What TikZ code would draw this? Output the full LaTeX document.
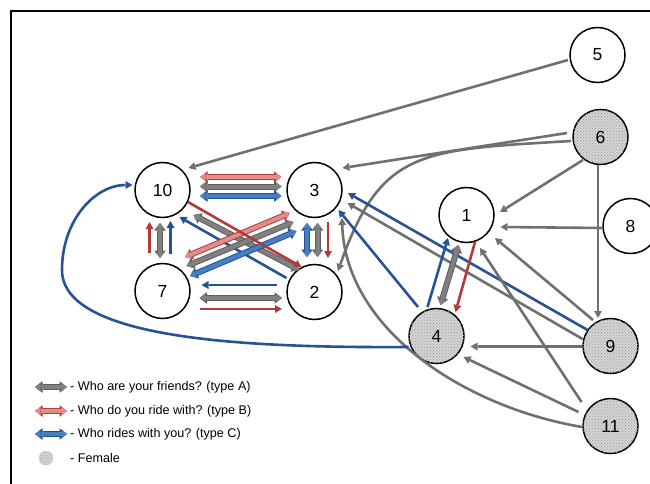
\documentclass[tikz,border=0pt]{standalone}
\usepackage{fontspec}
\setmainfont{Liberation Sans}
\usetikzlibrary{arrows.meta,calc,patterns}
\definecolor{lgray}{RGB}{112,112,112}
\definecolor{bgrayfill}{RGB}{128,128,128}
\definecolor{bgrayline}{RGB}{95,95,95}
\definecolor{lred}{RGB}{178,58,58}
\definecolor{bredfill}{RGB}{226,140,140}
\definecolor{bredline}{RGB}{178,62,62}
\definecolor{lblue}{RGB}{40,82,150}
\definecolor{bbluefill}{RGB}{72,126,196}
\definecolor{bblueline}{RGB}{36,80,150}
\definecolor{femfill}{RGB}{212,212,212}
\tikzset{
  nd/.style={circle, draw=black, line width=1.5pt, minimum size=55pt, inner sep=0pt, fill=white,
    font=\fontsize{17.5}{17.5}\selectfont},
  fem/.style={nd, fill=femfill, postaction={pattern=crosshatch dots, pattern color=gray!75}},
  blk/.style 2 args={line width=4pt, draw=#2,
    arrows={Triangle[length=5.5pt,width=9pt,line width=0pt]-Triangle[length=5.5pt,width=9pt,line width=0pt]},
    preaction={draw=#1, line width=6pt,
      arrows={Triangle[length=7.5pt,width=11.5pt,line width=0pt]-Triangle[length=7.5pt,width=11.5pt,line width=0pt]}}},
  bgray/.style={blk={bgrayline}{bgrayfill}},
  bred/.style={blk={bredline}{bredfill}},
  bblue/.style={blk={bblueline}{bbluefill}},
  thin/.style={line width=2.6pt, draw=#1, arrows={-Triangle[length=7pt,width=8pt,line width=0pt]}},
  tgray/.style={thin=lgray},
  tred/.style={thin=lred},
  tblue/.style={thin=lblue},
  legtext/.style={anchor=west, font=\fontsize{12.6}{12.6}\selectfont, inner sep=0pt},
}
\begin{document}
\begin{tikzpicture}[x=1pt,y=-1pt]
\useasboundingbox (0,0) rectangle (650,484);
% frame
\draw[line width=1.5pt] (11,700) -- (11,11) -- (700,11);

% nodes
\node[nd]  (n10) at (162.5,190) {10};
\node[nd]  (n3)  at (314.5,190) {3};
\node[nd]  (n7)  at (162.5,291) {7};
\node[nd]  (n2)  at (314.5,292) {2};
\node[nd]  (n1)  at (466.5,215) {1};
\node[nd]  (n5)  at (597.5,55) {5};
\node[fem] (n6)  at (600.5,137) {6};
\node[nd]  (n8)  at (630.5,226) {8};
\node[fem] (n4)  at (436.5,336) {4};
\node[fem] (n9)  at (610.5,346) {9};
\node[fem] (n11) at (610.5,426) {11};
\coordinate (bendL) at (62,270);

% 10 - 3
\draw[bred]  ($(n10)+(37.5,-13)$) -- ($(n3)+(-33,-13)$);
\draw[bgray] ($(n10)+(37.5,-3.5)$) -- ($(n3)+(-33,-3.5)$);
\draw[bblue] ($(n10)+(37.5,6)$) -- ($(n3)+(-33,6)$);
% 7 - 2
\draw[tblue] ($(n2)+(-38,-7)$) -- ($(n7)+(39,-6)$);
\draw[bgray] ($(n7)+(37,7)$) -- ($(n2)+(-32.5,6)$);
\draw[tred]  ($(n7)+(37,18)$) -- ($(n2)+(-32.5,17)$);
% 10 - 7
\draw[tred]  ($(n7)+(-13,-38)$) -- ($(n10)+(-13,32)$);
\draw[bgray] ($(n10)+(-2.5,33)$) -- ($(n7)+(-2.5,-33)$);
\draw[tblue] ($(n7)+(8,-37)$) -- ($(n10)+(8,31)$);
% 3 - 2
\draw[bblue] ($(n3)+(-7.5,33)$) -- ($(n2)+(-7.5,-35)$);
\draw[bgray] ($(n3)+(3,33)$) -- ($(n2)+(3,-35)$);
\draw[tred]  ($(n3)+(13.5,32)$) -- ($(n2)+(13.5,-34)$);
% diagonals
\draw[bgray] ($(n10)+(31,25)$) -- ($(n2)+(-15,-22)$);
\draw[tblue] ($(n2)+(-28,-14)$) -- ($(n10)+(17,27)$);
\draw[bred]  ($(n7)+(22.5,-34)$) -- ($(n3)+(-24.5,23)$);
\draw[bgray] ($(n7)+(24,-25)$) -- ($(n3)+(-21,32)$);
\draw[bblue] ($(n7)+(27.5,-15)$) -- ($(n3)+(-18,41)$);
\draw[tred]  ($(n10)+(25.5,12)$) -- ($(n2)+(-13,-25)$);

% right side
\draw[tgray] ($(n5)+(-29.5,5)$) -- ($(n10)+(26,-22)$);
\draw[tgray] ($(n6)+(-33.5,-4)$) -- ($(n3)+(28,-22)$);
\draw[tgray] ($(n6)+(-29.5,4)$) .. controls (421,150) and (380.9,148.8) .. ($(n2)+(23.5,-21)$);
\draw[tgray] ($(n6)+(-17.5,23)$) -- ($(n1)+(33.5,-3)$);
\draw[tgray] ($(n6)+(-2.5,28)$) -- ($(n9)+(-12.5,-28)$);
\draw[tgray] ($(n8)+(-27.5,2)$) -- ($(n1)+(34,12)$);
\draw[tgray] ($(n9)+(-17.5,-26)$) -- ($(n1)+(28.5,23)$);
\draw[tgray] ($(n9)+(-28,-7)$) -- ($(n3)+(33,13)$);
\draw[tblue] ($(n9)+(-23,-16)$) -- ($(n3)+(33.5,3)$);
\draw[tgray] ($(n9)+(-28.5,0.5)$) -- ($(n4)+(34,10.5)$);
\draw[tgray] ($(n11)+(-32,-14)$) -- ($(n4)+(27,21)$);
\draw[tgray] ($(n11)+(-29,-24)$) -- ($(n1)+(13.5,33)$);
\draw[tgray] ($(n11)+(-28.5,1)$) .. controls (462,406.6) and (345.3,328) .. ($(n3)+(27.5,28)$);
\draw[tblue] ($(n4)+(-28,11)$) .. controls (250,348) and (62,340) .. (bendL)
   .. controls (62,220) and (95,185) .. ($(n10)+(-30,-5)$);
\draw[tblue] ($(n4)+(-18.5,-29)$) -- ($(n3)+(24,20)$);
\draw[tblue] ($(n4)+(-9,-29)$) -- ($(n1)+(-18.5,23)$);
\draw[bgray] ($(n4)+(4,-31)$) -- ($(n1)+(-8,30)$);
\draw[tred]  ($(n1)+(8.5,27)$) -- ($(n4)+(19,-24)$);

% legend
\coordinate (la1) at (35,387); \coordinate (lb1) at (67,387);
\coordinate (la2) at (35,411); \coordinate (lb2) at (67,411);
\coordinate (la3) at (35,434); \coordinate (lb3) at (67,434);
\draw[bgray] (la1) -- (lb1);
\draw[bred]  (la2) -- (lb2);
\draw[bblue] (la3) -- (lb3);
\node[circle, minimum size=14pt, inner sep=0pt, fill=femfill, draw=gray!40, line width=0.4pt,
  postaction={pattern=crosshatch dots, pattern color=gray!75}] (lfem) at (46,458) {};
\node[legtext] (t1) at (70,387) {- Who are your friends? (type A)};
\node[legtext] (t2) at (70,411) {- Who do you ride with? (type B)};
\node[legtext] (t3) at (70,434) {- Who rides with you? (type C)};
\node[legtext] (t4) at (70,458) {- Female};
\end{tikzpicture}
\end{document}
